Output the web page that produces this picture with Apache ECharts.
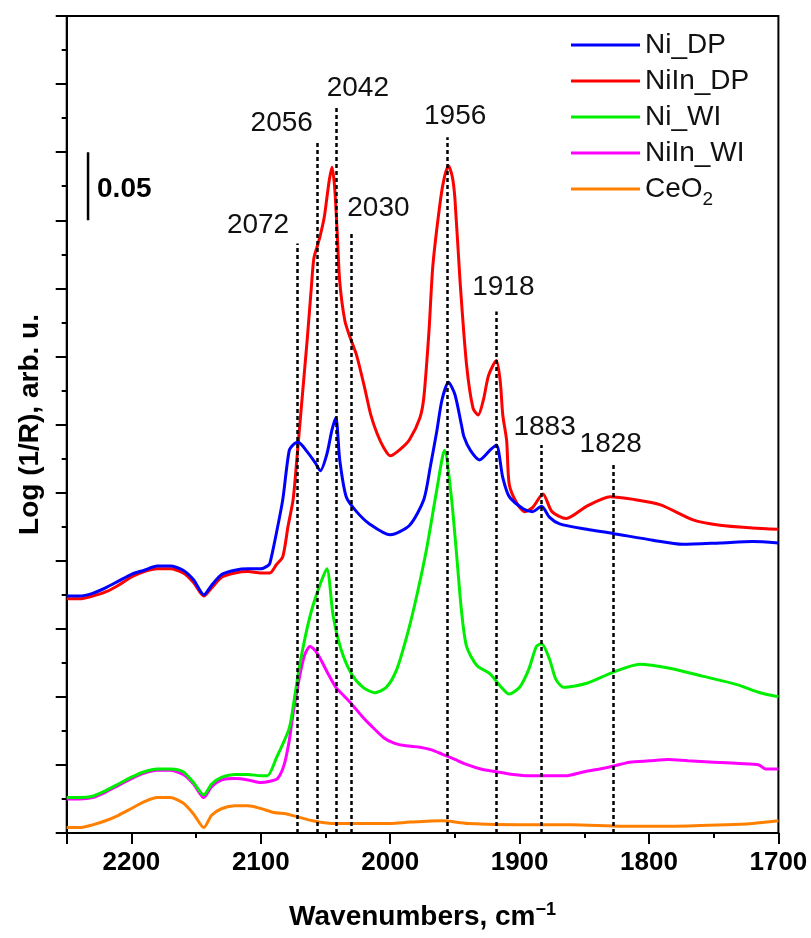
<!DOCTYPE html>
<html>
<head>
<meta charset="utf-8">
<script src="https://cdn.jsdelivr.net/npm/echarts@6/dist/echarts.min.js"></script>
<style>html,body{margin:0;padding:0;background:#fff}#chart{width:811px;height:938px}</style>
</head>
<body>
<div id="chart"></div>
<script>
// Values in units of 10^-3 of Log(1/R) (spectra offset vertically as in the figure)
const niDP = [[2250,174],[2240,174],[2230,176],[2220,180],[2210,185],[2200,190],[2190,193],[2180,196],[2170,196],[2160,193],[2152,186],[2144,175],[2138,182],[2130,190],[2120,193],[2110,194],[2100,194],[2095,196],[2093,198],[2088,220],[2083,245],[2078,281],[2074,286],[2071,287],[2065,281],[2058,272],[2054,266],[2049,278],[2045,296],[2042,305],[2039,274],[2034,247],[2026,236],[2016,227],[2000,219],[1985,226],[1974,245],[1969,269],[1964,295],[1960,318],[1955,331],[1950,322],[1945,300],[1943,291],[1938,281],[1931,274],[1923,281],[1918,285],[1913,261],[1908,247],[1897,238],[1890,236],[1883,240],[1877,232],[1869,227],[1848,223],[1828,220],[1797,215],[1774,212],[1745,213],[1720,214],[1700,213]];
const niInDP = [[2250,172],[2240,172],[2230,174],[2220,177],[2210,182],[2200,188],[2190,192],[2180,194],[2170,194],[2160,191],[2152,184],[2144,174],[2138,180],[2130,188],[2120,191],[2110,192],[2100,191],[2093,191],[2088,197],[2083,203],[2079,225],[2075,245],[2072,276],[2069,309],[2066,342],[2064,364],[2061,400],[2059,422],[2056,432],[2054,439],[2051,452],[2049,466],[2047,480],[2045,489],[2043,475],[2041,442],[2039,405],[2035,376],[2031,364],[2026,351],[2020,328],[2015,307],[2010,293],[2005,283],[2000,277],[1992,282],[1985,289],[1977,305],[1974,320],[1970,369],[1967,417],[1961,466],[1958,482],[1955,490],[1952,482],[1950,466],[1946,405],[1941,344],[1936,312],[1932,307],[1928,318],[1924,336],[1918,347],[1915,332],[1913,307],[1910,288],[1908,256],[1902,242],[1896,236],[1890,239],[1882,249],[1875,236],[1864,231],[1848,240],[1830,247],[1812,245],[1791,241],[1766,230],[1745,226],[1720,224],[1700,223]];
const niWI = [[2250,26],[2240,26],[2230,27],[2220,31],[2210,36],[2200,41],[2190,45],[2180,47],[2170,47],[2160,45],[2152,37],[2144,28],[2138,36],[2130,41],[2120,43],[2110,43],[2100,42],[2095,42],[2088,55],[2078,77],[2074,99],[2070,123],[2065,147],[2060,166],[2054,183],[2049,194],[2044,159],[2038,135],[2030,117],[2021,107],[2012,103],[2003,107],[1995,120],[1987,145],[1980,172],[1972,208],[1964,252],[1958,281],[1953,249],[1949,208],[1945,164],[1941,137],[1933,123],[1923,117],[1915,108],[1908,102],[1900,107],[1893,120],[1887,137],[1883,139],[1877,128],[1872,113],[1866,107],[1848,110],[1828,118],[1807,124],[1784,121],[1758,115],[1732,109],[1714,103],[1700,100]];
const niInWI = [[2250,25],[2240,25],[2230,26],[2220,30],[2210,35],[2200,40],[2190,44],[2180,46],[2170,46],[2160,43],[2152,36],[2144,26],[2138,34],[2130,39],[2120,40],[2110,39],[2100,37],[2093,38],[2087,40],[2082,50],[2078,68],[2075,88],[2070,115],[2066,131],[2062,137],[2058,134],[2054,128],[2048,117],[2042,107],[2036,101],[2030,95],[2022,86],[2015,79],[2005,70],[1997,66],[1988,64],[1977,63],[1968,61],[1960,58],[1950,54],[1940,50],[1930,47],[1918,45],[1905,43],[1893,42],[1880,42],[1865,42],[1850,45],[1838,47],[1828,49],[1815,52],[1800,53],[1785,54],[1770,53],[1750,52],[1730,51],[1715,50],[1710,47],[1700,47]];
const ceO2 = [[2250,4],[2240,4],[2230,6],[2220,9],[2210,13],[2200,18],[2190,23],[2180,26],[2170,26],[2160,22],[2152,14],[2144,4],[2138,13],[2130,18],[2120,20],[2110,20],[2100,18],[2090,15],[2080,14],[2072,12],[2060,9],[2045,7],[2030,7],[2015,7],[2000,7],[1985,8],[1960,9],[1940,7],[1900,6],[1860,6],[1820,5],[1780,5],[1740,6],[1720,7],[1700,9]];

const seriesNames = ['Ni_DP', 'NiIn_DP', 'Ni_WI', 'NiIn_WI', 'CeO2'];
const xTickValues = [2200, 2100, 2000, 1900, 1800, 1700];
const xMinorTickValues = [2150, 2050, 1950, 1850, 1750];

// Band positions (cm-1) marked by dashed lines, and the height each line reaches
const peakWn = [2072, 2056, 2042, 2030, 1956, 1918, 1883, 1828];
const peakLineTop = [433, 508, 534, 442, 511, 383, 285, 272];
const peakLabelOffset = [[-39,0],[-36,0],[22,0],[27,-5],[8,-3],[7,-6],[3,0],[-2,0]];

// Scale bar: 0.05 units
const scaleBarWn = 2233.5;
const scaleBarRange = [450, 500];
const scaleBarText = '0.05';

const FONT = '"Liberation Sans", Arial, sans-serif';
const colors = { 'Ni_DP': '#0000ff', 'NiIn_DP': '#ff0000', 'Ni_WI': '#00ee00', 'NiIn_WI': '#ff00ff', 'CeO2': '#ff8000' };
const dataByName = { 'Ni_DP': niDP, 'NiIn_DP': niInDP, 'Ni_WI': niWI, 'NiIn_WI': niInWI, 'CeO2': ceO2 };

const chart = echarts.init(document.getElementById('chart'), null, { renderer: 'canvas' });

const peakLines = peakWn.map((wn, i) => [
  { coord: [wn, 0], label: { formatter: String(wn), offset: peakLabelOffset[i] } },
  { coord: [wn, peakLineTop[i]] }
]);

const drawOrder = ['CeO2', 'NiIn_WI', 'Ni_WI', 'NiIn_DP', 'Ni_DP'];
const curveSeries = drawOrder.map(name => ({
  name: name,
  type: 'line',
  data: dataByName[name],
  symbol: 'none',
  showSymbol: false,
  smooth: 0.25,
  color: colors[name],
  lineStyle: { width: 3, color: colors[name] },
  emphasis: { disabled: true },
  animation: false,
  z: 3
}));

const option = {
  animation: false,
  backgroundColor: '#fff',
  grid: { left: 66.7, right: 32.6, top: 16, bottom: 100, show: true, borderColor: '#000', borderWidth: 2, backgroundColor: 'transparent' },
  legend: {
    data: seriesNames.map(n => ({ name: n, icon: 'rect', itemStyle: { color: colors[n] } })),
    orient: 'vertical',
    left: 571,
    top: 25,
    itemWidth: 69,
    itemHeight: 3,
    itemGap: -4,
    padding: 0,
    selectedMode: false,
    textStyle: {
      fontSize: 28, color: '#111', fontFamily: FONT, lineHeight: 40,
      rich: { sub: { fontSize: 19, lineHeight: 18, verticalAlign: 'bottom', color: '#111', fontFamily: FONT } }
    },
    formatter: name => name === 'CeO2' ? 'CeO{sub|2}' : name
  },
  xAxis: [{
    type: 'value',
    min: 1700, max: 2250, interval: 100,
    inverse: true,
    position: 'bottom',
    axisLine: { show: true, onZero: false, lineStyle: { color: '#000', width: 2 } },
    axisTick: { show: true, length: 11, lineStyle: { color: '#000', width: 2 } },
    splitLine: { show: false },
    axisLabel: {
      fontSize: 26, fontWeight: 'bold', color: '#000', fontFamily: FONT, margin: 17,
      formatter: v => (xTickValues.indexOf(v) >= 0 ? String(v) : '')
    },
    name: 'Wavenumbers, cm{sup|\u22121}',
    nameLocation: 'middle',
    nameGap: 68,
    nameTextStyle: {
      fontSize: 28, fontWeight: 'bold', color: '#000', fontFamily: FONT, lineHeight: 32,
      rich: { sup: { fontSize: 18, fontWeight: 'bold', color: '#000', fontFamily: FONT, lineHeight: 18, verticalAlign: 'top' } }
    }
  }, {
    type: 'value',
    min: 1700, max: 2250,
    inverse: true,
    position: 'bottom',
    axisLine: { show: false, onZero: false },
    axisTick: { show: true, length: 5, customValues: xMinorTickValues, lineStyle: { color: '#000', width: 2 } },
    axisLabel: { show: false },
    splitLine: { show: false }
  }],
  yAxis: {
    type: 'value',
    min: 0, max: 600, interval: 50,
    axisLine: { show: true, onZero: false, lineStyle: { color: '#000', width: 2 } },
    axisTick: { show: true, length: 11, lineStyle: { color: '#000', width: 2 } },
    minorTick: { show: true, splitNumber: 2, length: 5, lineStyle: { color: '#000', width: 2 } },
    axisLabel: { show: false },
    splitLine: { show: false },
    name: 'Log (1/R), arb. u.',
    nameLocation: 'middle',
    nameRotate: 90,
    nameGap: 22,
    nameTextStyle: { fontSize: 28, fontWeight: 'bold', color: '#000', fontFamily: FONT }
  },
  series: [{
    name: 'peaks',
    type: 'line',
    data: [],
    silent: true,
    animation: false,
    z: 2,
    markLine: {
      silent: true,
      symbol: ['none', 'none'],
      animation: false,
      lineStyle: { type: [4, 3], width: 2.5, color: '#000' },
      label: { show: true, position: 'end', fontSize: 28, color: '#111', fontFamily: FONT, distance: 4 },
      emphasis: { disabled: true },
      data: peakLines
    }
  }, {
    name: 'scale',
    type: 'line',
    data: [[scaleBarWn, scaleBarRange[0]], [scaleBarWn, scaleBarRange[1]]],
    symbol: 'none',
    silent: true,
    animation: false,
    lineStyle: { width: 2.5, color: '#000' },
    color: '#000',
    z: 2
  }].concat(curveSeries)
};

chart.setOption(option);

const mid = chart.convertToPixel({ xAxisIndex: 0, yAxisIndex: 0 }, [scaleBarWn, (scaleBarRange[0] + scaleBarRange[1]) / 2]);
chart.setOption({
  graphic: [{
    type: 'text',
    x: mid[0] + 9,
    y: mid[1] + 3,
    style: { text: scaleBarText, fontSize: 28, fontWeight: 'bold', fill: '#000', font: 'bold 28px ' + FONT, textVerticalAlign: 'middle', verticalAlign: 'middle', align: 'left' }
  }]
});
</script>
</body>
</html>
